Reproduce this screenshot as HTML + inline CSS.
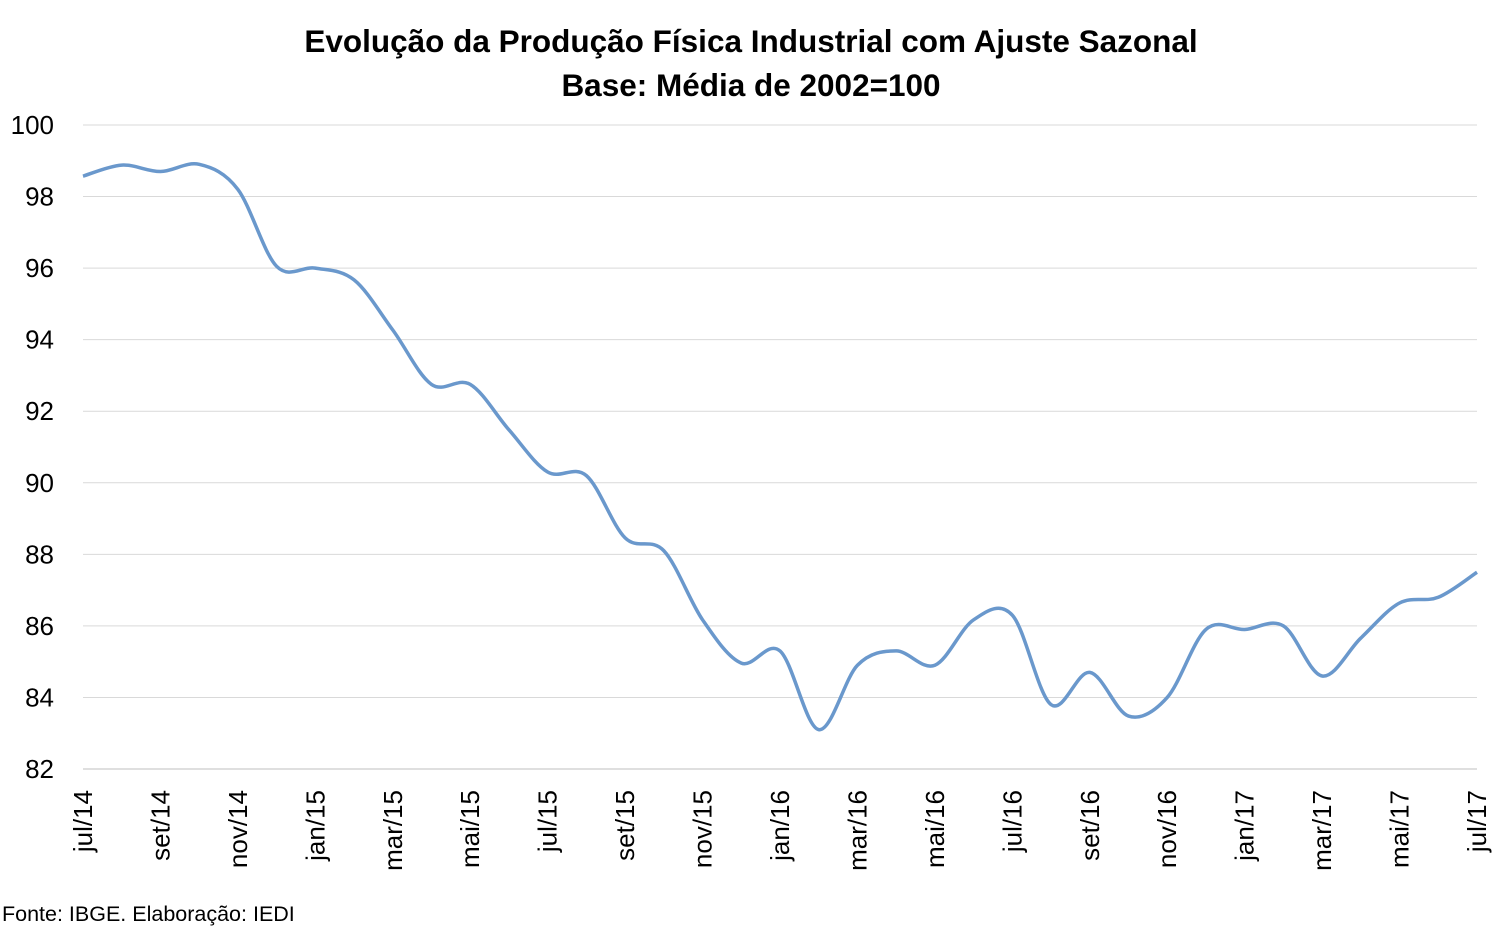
<!DOCTYPE html>
<html><head><meta charset="utf-8"><style>
body{margin:0;background:#fff;}
svg text{font-family:"Liberation Sans",sans-serif;}
</style></head><body>
<svg id="chart" width="1502" height="929" viewBox="0 0 1502 929">
<text x="751" y="52" text-anchor="middle" font-size="31.5" font-weight="bold" fill="#000">Evolução da Produção Física Industrial com Ajuste Sazonal</text>
<text x="751" y="96" text-anchor="middle" font-size="31.5" font-weight="bold" fill="#000">Base: Média de 2002=100</text>
<g id="grid"></g><g id="yticks"></g><g id="xticks"></g>
<path id="line" fill="none" stroke="#6a98cc" stroke-width="3.5"/>
<text x="2" y="921" font-size="21.5" fill="#000">Fonte: IBGE. Elaboração: IEDI</text>
</svg>
<script>
const months=["jul/14","ago/14","set/14","out/14","nov/14","dez/14","jan/15","fev/15","mar/15","abr/15","mai/15","jun/15","jul/15","ago/15","set/15","out/15","nov/15","dez/15","jan/16","fev/16","mar/16","abr/16","mai/16","jun/16","jul/16","ago/16","set/16","out/16","nov/16","dez/16","jan/17","fev/17","mar/17","abr/17","mai/17","jun/17","jul/17"];
const values=[98.57,98.88,98.7,98.9,98.2,96.05,96.0,95.67,94.27,92.75,92.75,91.48,90.3,90.2,88.46,88.1,86.17,84.96,85.3,83.1,84.9,85.3,84.9,86.17,86.3,83.8,84.7,83.48,84.0,85.9,85.9,86.0,84.6,85.66,86.64,86.8,87.5];
const yTicks=[82,84,86,88,90,92,94,96,98,100];
const X0=83,X1=1477,Y0=769,Y1=125,YMIN=82,YMAX=100;
const xs=i=>X0+(X1-X0)*i/(months.length-1);
const ys=v=>Y0-(v-YMIN)/(YMAX-YMIN)*(Y0-Y1);
const NS="http://www.w3.org/2000/svg";
const grid=document.getElementById('grid'),yt=document.getElementById('yticks'),xt=document.getElementById('xticks');
yTicks.forEach(t=>{
 const l=document.createElementNS(NS,'line');
 
 
 l.setAttribute('x1',X0);l.setAttribute('x2',X1);l.setAttribute('y1',ys(t));l.setAttribute('y2',ys(t));
 l.setAttribute('stroke',t===YMIN?'#bfbfbf':'#d9d9d9');l.setAttribute('stroke-width','1');
 grid.appendChild(l);
 const tx=document.createElementNS(NS,'text');
 
 
 tx.setAttribute('x',54);tx.setAttribute('y',ys(t)+9);tx.setAttribute('text-anchor','end');tx.setAttribute('font-size','26');
 tx.textContent=t;yt.appendChild(tx);
});
months.forEach((m,i)=>{
 if(i%2)return;
 const tx=document.createElementNS(NS,'text');
 
 
 const x=xs(i)+9,y=790;
 tx.setAttribute('transform','translate('+x+','+y+') rotate(-90)');
 tx.setAttribute('text-anchor','end');tx.setAttribute('font-size','26');
 tx.textContent=m;xt.appendChild(tx);
});
const P=values.map((v,i)=>[xs(i),ys(v)]);
let d='M'+P[0][0]+','+P[0][1];
for(let i=0;i<P.length-1;i++){
 const p0=P[Math.max(i-1,0)],p1=P[i],p2=P[i+1],p3=P[Math.min(i+2,P.length-1)];
 const c1=[p1[0]+(p2[0]-p0[0])/6,p1[1]+(p2[1]-p0[1])/6];
 const c2=[p2[0]-(p3[0]-p1[0])/6,p2[1]-(p3[1]-p1[1])/6];
 d+=' C'+c1+' '+c2+' '+p2;
}
document.getElementById('line').setAttribute('d',d);
</script>
</body></html>
